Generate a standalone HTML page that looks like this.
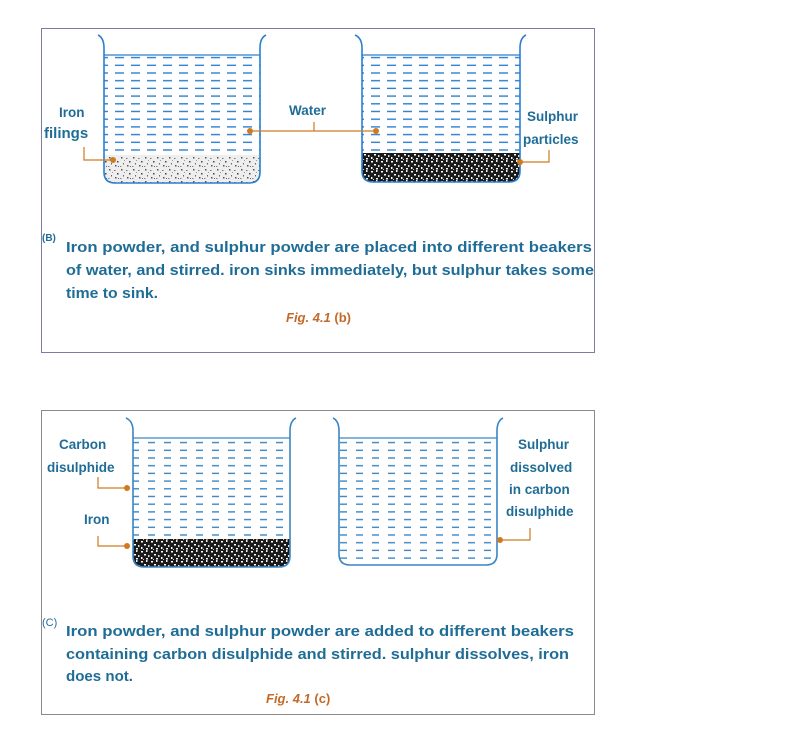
<!DOCTYPE html>
<html><head><meta charset="utf-8"><style>
html,body{margin:0;padding:0;background:#fff;}
svg{display:block;}
text{font-family:"Liberation Sans",sans-serif;}
.t{fill:#1f6d96;font-size:15px;font-weight:bold;}
.l{fill:#1f6d96;font-size:13.5px;}
.f{fill:#c26a2a;font-size:13px;font-style:italic;font-weight:bold;}
</style></head><body>
<svg width="789" height="753" viewBox="0 0 789 753" xmlns="http://www.w3.org/2000/svg">
<defs>
<pattern id="dash" width="16" height="7.7" patternUnits="userSpaceOnUse">
<rect x="3" y="3" width="9" height="1.4" fill="#2a7fd0"/>
</pattern>
<pattern id="dash2" width="16" height="7.7" patternUnits="userSpaceOnUse">
<rect x="4" y="3" width="7" height="1.4" fill="#3a86c4"/>
</pattern>
<pattern id="sedL" width="12" height="12" patternUnits="userSpaceOnUse">
<rect width="12" height="12" fill="#eeeeee"/>
<rect x="1" y="1" width="1.5" height="1.5" fill="#555"/><rect x="6" y="2" width="1.5" height="1" fill="#777"/>
<rect x="9" y="5" width="1.5" height="1.5" fill="#444"/><rect x="3" y="7" width="1" height="1.5" fill="#666"/>
<rect x="7" y="9" width="1.5" height="1.5" fill="#555"/><rect x="0" y="10" width="1.5" height="1" fill="#888"/>
<rect x="4" y="4" width="1" height="1" fill="#999"/><rect x="10" y="10" width="1" height="1" fill="#666"/>
</pattern>
<pattern id="sedD" width="10" height="10" patternUnits="userSpaceOnUse">
<rect width="10" height="10" fill="#1a1a1a"/>
<rect x="1" y="1" width="2" height="1.5" fill="#fff"/><rect x="6" y="0" width="1.5" height="2" fill="#eee"/>
<rect x="4" y="4" width="2" height="1.5" fill="#fff"/><rect x="8" y="5" width="1.5" height="2" fill="#ddd"/>
<rect x="1" y="7" width="1.5" height="2" fill="#fff"/><rect x="6" y="8" width="2" height="1.5" fill="#eee"/>
<rect x="3" y="9" width="1" height="1" fill="#ccc"/>
</pattern>
</defs>

<rect x="41.5" y="28.5" width="553" height="324" fill="none" stroke="#7b7ba3" stroke-width="1"/>
<rect x="41.5" y="410.5" width="553" height="304" fill="none" stroke="#8a8a8a" stroke-width="1"/>

<rect x="104" y="56" width="156" height="100" fill="url(#dash)"/>
<path d="M104 155 H260 V172 Q260 183 249 183 H115 Q104 183 104 172 Z" fill="url(#sedL)"/>
<line x1="104" y1="55" x2="260" y2="55" stroke="#2a7fd0" stroke-width="1.2"/>
<path d="M98 35 Q104 38 104 48 V172 Q104 183 115 183 H249 Q260 183 260 172 V48 Q260 38 266 35" fill="none" stroke="#2a7fd0" stroke-width="1.6"/>
<rect x="362" y="56" width="158" height="100" fill="url(#dash)"/>
<path d="M362 153 H520 V171 Q520 182 509 182 H373 Q362 182 362 171 Z" fill="url(#sedD)"/>
<line x1="362" y1="55" x2="520" y2="55" stroke="#2a7fd0" stroke-width="1.2"/>
<path d="M355 35 Q362 38 362 48 V171 Q362 182 373 182 H509 Q520 182 520 171 V48 Q520 38 526 35" fill="none" stroke="#2a7fd0" stroke-width="1.6"/>

<g stroke="#d07a20" stroke-width="1.2" fill="none">
<path d="M84 147 V160 H113"/>
<path d="M250 131 H375"/>
<path d="M314 122 V131"/>
<path d="M520 162 H549 V150"/>
</g>
<g fill="#d07a20"><circle cx="113" cy="160" r="3"/><circle cx="250" cy="131" r="3"/><circle cx="376" cy="131" r="3"/><circle cx="520" cy="162" r="3"/></g>

<text class="l" x="59" y="117" style="font-weight:bold">Iron</text>
<text class="l" x="44" y="138" style="font-size:15px;font-weight:bold">filings</text>
<text class="l" x="289" y="115" style="font-weight:bold">Water</text>
<text class="l" x="527" y="121" style="font-weight:bold">Sulphur</text>
<text class="l" x="523" y="144" style="font-weight:bold">particles</text>

<text class="t" x="42" y="241" style="font-size:10px">(B)</text>
<text class="t" x="66" y="252" textLength="526" lengthAdjust="spacingAndGlyphs">Iron powder, and sulphur powder are placed into different beakers</text>
<text class="t" x="66" y="275" textLength="528" lengthAdjust="spacingAndGlyphs">of water, and stirred. iron sinks immediately, but sulphur takes some</text>
<text class="t" x="66" y="298" textLength="92" lengthAdjust="spacingAndGlyphs">time to sink.</text>
<text class="f" x="286" y="322">Fig. 4.1 <tspan style="font-style:normal">(b)</tspan></text>

<rect x="133" y="439" width="157" height="100" fill="url(#dash2)"/>
<path d="M133 539 H290 V556 Q290 567 279 567 H144 Q133 567 133 556 Z" fill="url(#sedD)"/>
<line x1="133" y1="438" x2="290" y2="438" stroke="#3a86c4" stroke-width="1.2"/>
<path d="M126 418 Q133 421 133 431 V556 Q133 567 144 567 H279 Q290 567 290 556 V431 Q290 421 296 418" fill="none" stroke="#3a86c4" stroke-width="1.6"/>
<rect x="339" y="439" width="158" height="120" fill="url(#dash2)"/>
<line x1="339" y1="438" x2="497" y2="438" stroke="#3a86c4" stroke-width="1.2"/>
<path d="M333 418 Q339 421 339 431 V554 Q339 565 350 565 H486 Q497 565 497 554 V431 Q497 421 503 418" fill="none" stroke="#3a86c4" stroke-width="1.6"/>

<g stroke="#d07a20" stroke-width="1.2" fill="none">
<path d="M98 477 V488 H126"/>
<path d="M98 536 V546 H126"/>
<path d="M500 540 H530 V528"/>
</g>
<g fill="#d07a20"><circle cx="127" cy="488" r="3"/><circle cx="127" cy="546" r="3"/><circle cx="500" cy="540" r="3"/></g>

<text class="l" x="59" y="449" style="font-weight:bold">Carbon</text>
<text class="l" x="47" y="472" style="font-weight:bold">disulphide</text>
<text class="l" x="84" y="524" style="font-weight:bold">Iron</text>
<text class="l" x="518" y="449" style="font-weight:bold">Sulphur</text>
<text class="l" x="510" y="472" style="font-weight:bold">dissolved</text>
<text class="l" x="509" y="494" style="font-weight:bold">in carbon</text>
<text class="l" x="506" y="516" style="font-weight:bold">disulphide</text>

<text class="t" x="42" y="626" style="font-size:11px;font-weight:normal">(C)</text>
<text class="t" x="66" y="636" textLength="508" lengthAdjust="spacingAndGlyphs">Iron powder, and sulphur powder are added to different beakers</text>
<text class="t" x="66" y="659" textLength="503" lengthAdjust="spacingAndGlyphs">containing carbon disulphide and stirred.  sulphur dissolves, iron</text>
<text class="t" x="66" y="681" textLength="67" lengthAdjust="spacingAndGlyphs">does not.</text>
<text class="f" x="266" y="703">Fig. 4.1 <tspan style="font-style:normal">(c)</tspan></text>
</svg>
</body></html>
